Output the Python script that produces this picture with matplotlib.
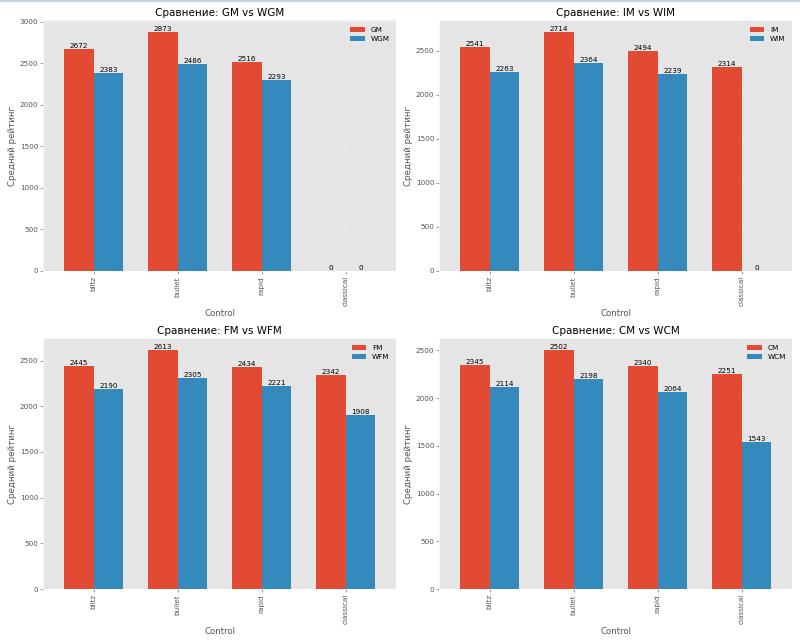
import matplotlib
matplotlib.use("Agg")
import matplotlib.pyplot as plt
import numpy as np
from matplotlib.patches import Rectangle

plt.style.use("ggplot")

controls = ["blitz", "bullet", "rapid", "classical"]

gm = [2672, 2873, 2516, 0]
wgm = [2383, 2486, 2293, 0]
im = [2541, 2714, 2494, 2314]
wim = [2263, 2364, 2239, 0]
fm = [2445, 2613, 2434, 2342]
wfm = [2190, 2305, 2221, 1908]
cm = [2345, 2502, 2340, 2251]
wcm = [2114, 2198, 2064, 1543]

pairs = [("GM", "WGM", gm, wgm), ("IM", "WIM", im, wim),
         ("FM", "WFM", fm, wfm), ("CM", "WCM", cm, wcm)]

DPI = 52
fig, axes = plt.subplots(2, 2, figsize=(800 / DPI, 644 / DPI), dpi=DPI)
x = np.arange(len(controls))
w = 0.35
for ax, (a, b, va, vb) in zip(axes.flat, pairs):
    ax.set_axisbelow(True)
    ax.grid(True, alpha=0.35)
    c1 = ax.bar(x - w / 2, va, w, label=a, color="#E24A33")
    c2 = ax.bar(x + w / 2, vb, w, label=b, color="#348ABD")
    ax.bar_label(c1, fmt="%.0f")
    ax.bar_label(c2, fmt="%.0f")
    ax.set_xticks(x)
    ax.set_xticklabels(controls, rotation=90)
    ax.set_xlim(-0.6, 3.6)
    ax.set_title(f"Сравнение: {a} vs {b}")
    ax.set_xlabel("Control")
    ax.set_ylabel("Средний рейтинг")
    ax.legend(loc="upper right", edgecolor="none")

fig.tight_layout()
fig.add_artist(Rectangle((0, 0.997), 1, 0.003, transform=fig.transFigure,
                         color="#C9D0E0", zorder=10))
fig.savefig("out.png", dpi=DPI)
